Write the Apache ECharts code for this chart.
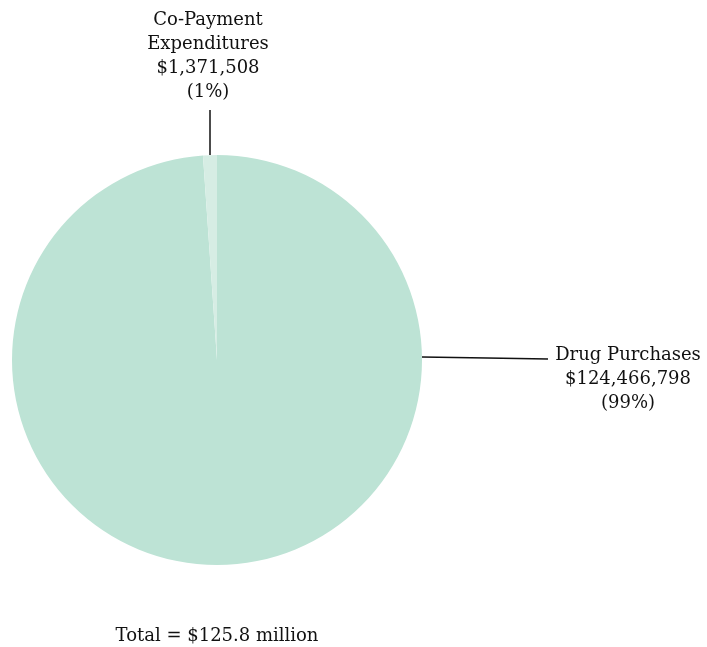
<!DOCTYPE html>
<html>
<head>
<meta charset="utf-8">
<script src="https://cdn.jsdelivr.net/npm/echarts@6/dist/echarts.min.js"></script>
<style>
  html, body { margin: 0; padding: 0; background: #fff; }
  #chart { width: 707px; height: 647px; }
</style>
</head>
<body>
<div id="chart"></div>
<script>
// Expenditure breakdown
var categories = ['Drug Purchases', 'Co-Payment Expenditures'];
var amounts = [124466798, 1371508];
var percentLabels = ['99%', '1%'];
var totalLabel = 'Total = $125.8 million';

var colors = ['#bde3d5', '#d6ede4'];
var FONT = '"DejaVu Serif", "Liberation Serif", serif';

var CX = 217, CY = 360, R = 205;

function money(v) {
  return '$' + v.toString().replace(/\B(?=(\d{3})+(?!\d))/g, ',');
}

var data = categories.map(function (name, i) {
  return { name: name, value: amounts[i], itemStyle: { color: colors[i] } };
});

var chart = echarts.init(document.getElementById('chart'), null, { renderer: 'canvas' });
chart.setOption({
  animation: false,
  backgroundColor: '#ffffff',
  title: {
    text: totalLabel,
    left: CX - 5,
    top: 622,
    textAlign: 'center',
    textStyle: { fontFamily: FONT, fontSize: 18, fontWeight: 'normal', color: '#111' }
  },
  series: [{
    type: 'pie',
    center: [CX, CY],
    radius: [0, R],
    startAngle: 90,
    clockwise: true,
    avoidLabelOverlap: false,
    data: data,
    itemStyle: { borderWidth: 0 },
    emphasis: { disabled: true },
    label: {
      show: true,
      position: 'outside',
      fontFamily: FONT,
      fontSize: 18,
      lineHeight: 24,
      color: '#111',
      align: 'center',
      formatter: function (p) {
        var name = p.dataIndex === 1 ? 'Co-Payment\nExpenditures' : p.name;
        return name + '\n' + money(p.value) + '\n(' + percentLabels[p.dataIndex] + ')';
      }
    },
    labelLine: {
      show: true,
      lineStyle: { color: '#111', width: 1.5 }
    },
    labelLayout: function (params) {
      if (params.dataIndex === 0) {
        return {
          x: 628, y: 379, align: 'center', verticalAlign: 'middle',
          labelLinePoints: [[CX + R, CY - 3], [CX + R + 65, CY - 2], [548, CY - 1]]
        };
      }
      return {
        x: 208, y: 56, align: 'center', verticalAlign: 'middle',
        labelLinePoints: [[210, CY - R], [210, 130], [210, 110]]
      };
    }
  }]
});
</script>
</body>
</html>
